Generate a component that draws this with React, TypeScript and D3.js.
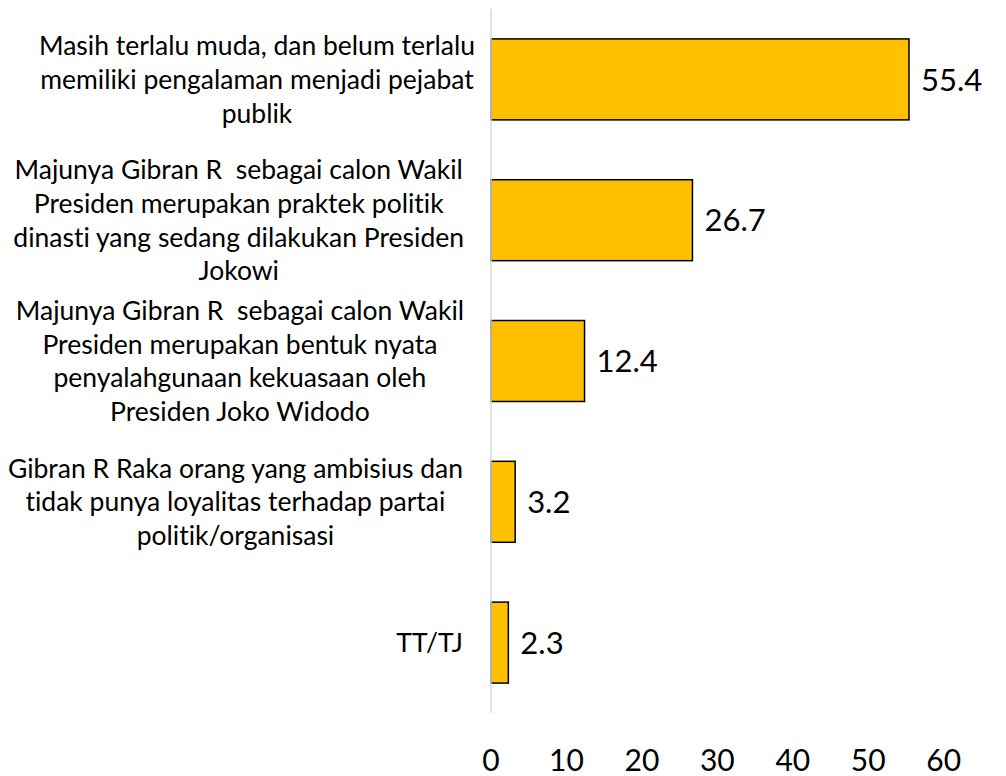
import React, { useEffect, useRef } from "react";
import * as d3 from "d3";

const categories: string[][] = [
  ["Masih terlalu muda, dan belum terlalu", "memiliki pengalaman menjadi pejabat", "publik"],
  ["Majunya Gibran R  sebagai calon Wakil", "Presiden merupakan praktek politik", "dinasti yang sedang dilakukan Presiden", "Jokowi"],
  ["Majunya Gibran R  sebagai calon Wakil", "Presiden merupakan bentuk nyata", "penyalahgunaan kekuasaan oleh", "Presiden Joko Widodo"],
  ["Gibran R Raka orang yang ambisius dan", "tidak punya loyalitas terhadap partai", "politik/organisasi"],
  ["TT/TJ"],
];
const values: number[] = [55.4, 26.7, 12.4, 3.2, 2.3];
const ticks: number[] = [0, 10, 20, 30, 40, 50, 60];

// right edge of each wrapped label block
const labelRight = [475, 464, 464, 463, 463];

const W = 1006;
const H = 776;
const FONT = "Lato, 'Open Sans', sans-serif";

export default function App() {
  const ref = useRef<SVGSVGElement>(null);

  useEffect(() => {
    const svg = d3.select(ref.current);
    svg.selectAll("*").remove();

    const x = d3.scaleLinear().domain([0, 60]).range([491, 943.7]);
    const y = d3
      .scaleBand<number>()
      .domain(d3.range(values.length))
      .range([9, 713])
      .paddingInner(0.425)
      .paddingOuter(0.2125);

    // bars
    svg
      .append("g")
      .selectAll("rect")
      .data(values)
      .join("rect")
      .attr("x", x(0))
      .attr("y", (_, i) => y(i)!)
      .attr("width", (d) => x(d) - x(0))
      .attr("height", y.bandwidth())
      .attr("fill", "#FFC000")
      .attr("stroke", "#000")
      .attr("stroke-width", 1.5);

    // axis line
    svg
      .append("line")
      .attr("x1", x(0))
      .attr("x2", x(0))
      .attr("y1", 9)
      .attr("y2", 713)
      .attr("stroke", "#d9d9d9")
      .attr("stroke-width", 1.5);

    // value labels
    svg
      .append("g")
      .selectAll("text")
      .data(values)
      .join("text")
      .attr("x", (d) => x(d) + 12)
      .attr("y", (_, i) => y(i)! + y.bandwidth() / 2)
      .attr("dy", "0.36em")
      .attr("font-family", FONT)
      .attr("font-size", 31)
      .attr("fill", "#000")
      .text((d) => d.toFixed(1));

    // tick labels
    svg
      .append("g")
      .selectAll("text")
      .data(ticks)
      .join("text")
      .attr("x", (d) => x(d))
      .attr("y", 771)
      .attr("text-anchor", "middle")
      .attr("font-family", FONT)
      .attr("font-size", 30)
      .attr("fill", "#000")
      .text((d) => d);

    // category labels
    const lineH = 33.7;
    categories.forEach((lines, i) => {
      const cy = y(i)! + y.bandwidth() / 2;
      const t = svg
        .append("text")
        .attr("font-family", FONT)
        .attr("font-size", 26.5)
        .attr("fill", "#000")
        .attr("text-anchor", "middle")
        .style("white-space", "pre")
        .style("font-variant-ligatures", "none");
      const spans = t
        .selectAll("tspan")
        .data(lines)
        .join("tspan")
        .attr("y", (_, j) => cy + (j - (lines.length - 1) / 2) * lineH)
        .attr("dy", "0.36em")
        .text((d) => d);
      let maxW = 0;
      spans.each(function () {
        maxW = Math.max(maxW, (this as SVGTSpanElement).getComputedTextLength());
      });
      spans.attr("x", labelRight[i] - maxW / 2);
    });
  }, []);

  return (
    <svg
      ref={ref}
      width={W}
      height={H}
      style={{ display: "block", position: "absolute", left: 0, top: 0 }}
    />
  );
}
